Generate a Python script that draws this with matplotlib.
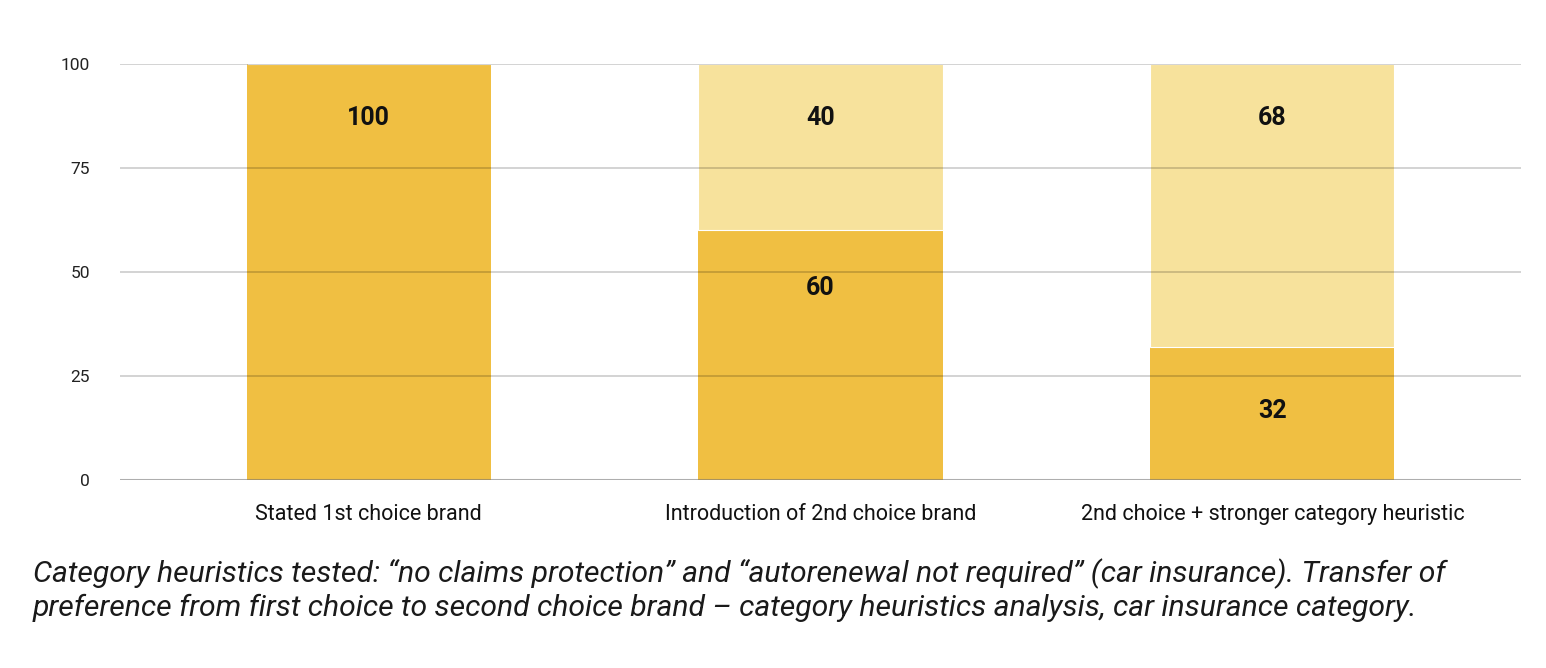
import matplotlib
matplotlib.use("Agg")
import matplotlib.pyplot as plt
import numpy as np

categories = ["Stated 1st choice brand", "Introduction of 2nd choice brand",
              "2nd choice + stronger category heuristic"]
first_choice = [100, 60, 32]
second_choice = [0, 40, 68]
yticks = [0, 25, 50, 75, 100]
caption = ("Category heuristics tested: \u201cno claims protection\u201d and \u201cautorenewal not required\u201d (car insurance). Transfer of\n"
           "preference from first choice to second choice brand \u2013 category heuristics analysis, car insurance category.")

dark = "#F0BF42"
light = "#F7E29C"

fig = plt.figure(figsize=(15.46, 6.68), dpi=100)
ax = fig.add_axes([120/1546, 1-480/668, 1401/1546, 416/668])

x = np.arange(len(categories))
w = 0.54
ax.bar(x, first_choice, width=w, color=dark, zorder=1, linewidth=0)
ax.bar(x, second_choice, width=w, bottom=first_choice, color=light, zorder=1,
       linewidth=0.8, edgecolor="white")

ax.set_xlim(-0.55, 2.55)
ax.set_ylim(0, 100)
ax.set_yticks(yticks)
ax.set_yticklabels([str(t) for t in yticks], fontfamily="Roboto", fontsize=12.5, color="#222222")
ax.set_xticks(x)
ax.set_xticklabels(categories, fontfamily="Roboto", fontsize=15.5, color="#111111")
ax.tick_params(axis="both", length=0)
ax.tick_params(axis="y", pad=21.5)
ax.tick_params(axis="x", pad=17.5)
for s in ax.spines.values():
    s.set_visible(False)
for t in yticks:
    ax.axhline(t, color="black", alpha=0.2, linewidth=1.2, zorder=3)
ax.axhline(0, color="#8a8a8a", alpha=0.5, linewidth=1.5, zorder=3)

offsets = {(0, 0): 54, (1, 0): 58, (2, 0): 64, (1, 1): 54, (2, 1): 54}
for i in range(len(categories)):
    segs = [(first_choice[i], first_choice[i], 0), (second_choice[i], first_choice[i] + second_choice[i], 1)]
    for val, top, k in segs:
        if val <= 0:
            continue
        ax.annotate(str(val), xy=(x[i], top), xytext=(0, -offsets[(i, k)]),
                    textcoords="offset pixels", ha="center", va="center",
                    fontfamily="Roboto", fontweight="bold", fontsize=18, color="#111111", zorder=4)

fig.text(33/1546, 1-590/668, caption, fontfamily="Roboto", fontstyle="italic", fontweight="normal",
         fontsize=21.7, color="#1a1a1a", ha="left", va="center", linespacing=1.23)

fig.savefig("out.png", dpi=100, facecolor="white")
